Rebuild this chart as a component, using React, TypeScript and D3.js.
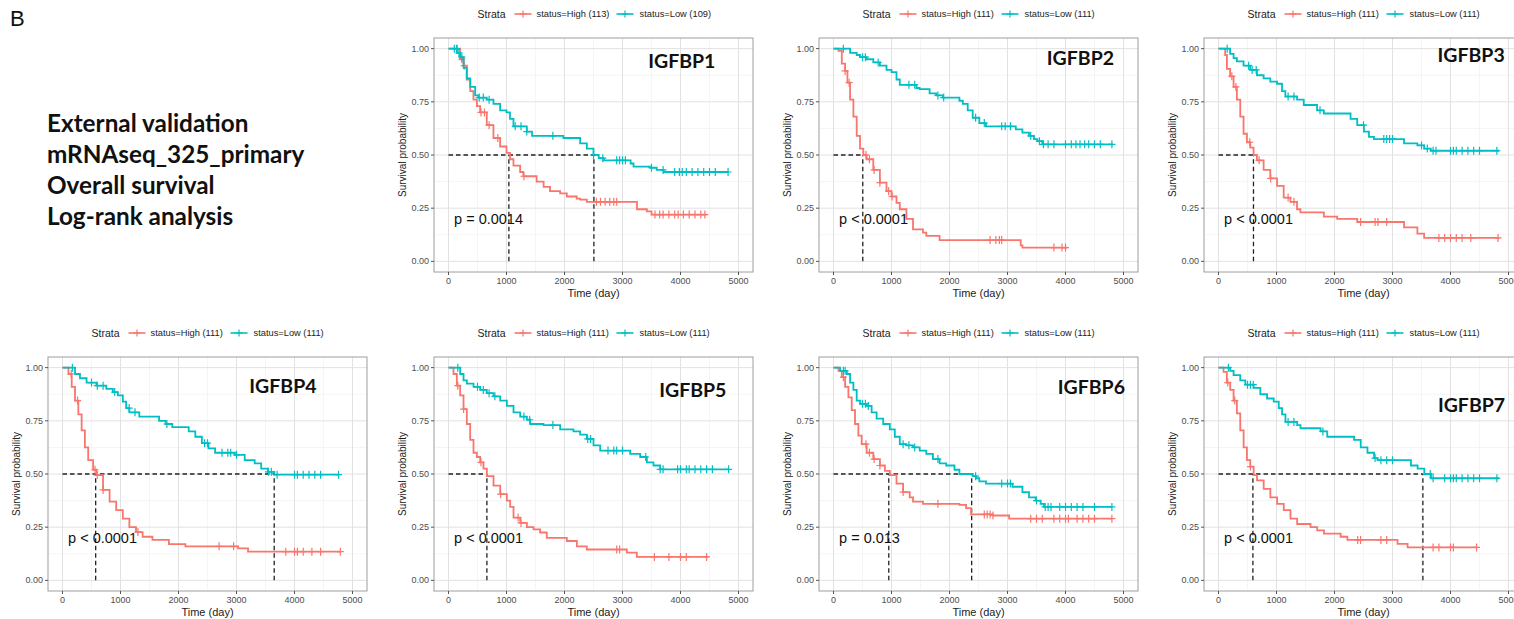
import React from 'react'
import * as d3 from 'd3'

// KM step points: [time (day), survival after that time]
const HIGH_1 = [[0,1],[200,0.95],[260,0.92],[315,0.855],[375,0.8],[430,0.76],[490,0.73],[545,0.7],[660,0.64],[775,0.58],[890,0.54],[1000,0.51],[1060,0.48],[1120,0.45],[1235,0.42],[1290,0.4],[1520,0.375],[1640,0.35],[1750,0.33],[1925,0.32],[2040,0.305],[2210,0.295],[2270,0.29],[2385,0.28],[3250,0.245],[3420,0.235],[3500,0.22],[4450,0.22]]
const LOW_1 = [[0,1],[145,0.98],[200,0.96],[260,0.91],[315,0.86],[375,0.82],[460,0.78],[515,0.77],[660,0.76],[775,0.74],[890,0.71],[1000,0.7],[1060,0.67],[1120,0.635],[1350,0.61],[1440,0.59],[1980,0.58],[2270,0.555],[2385,0.53],[2500,0.5],[2590,0.485],[2675,0.475],[3140,0.46],[3190,0.445],[3480,0.44],[3590,0.43],[3710,0.42],[4830,0.42]]
const HIGH_2 = [[0,1],[86,0.99],[143,0.93],[200,0.895],[240,0.84],[286,0.76],[343,0.68],[400,0.59],[457,0.53],[514,0.5],[571,0.48],[686,0.43],[800,0.37],[914,0.33],[1000,0.305],[1086,0.275],[1143,0.245],[1257,0.2],[1371,0.15],[1543,0.135],[1600,0.12],[1829,0.1],[3228,0.075],[3257,0.065],[4030,0.065]]
const LOW_2 = [[0,1],[286,0.98],[400,0.97],[457,0.96],[571,0.95],[686,0.935],[800,0.92],[914,0.9],[1000,0.89],[1086,0.855],[1143,0.83],[1429,0.815],[1486,0.81],[1657,0.79],[1771,0.78],[1886,0.77],[2171,0.755],[2229,0.74],[2314,0.71],[2400,0.675],[2514,0.65],[2629,0.635],[3143,0.62],[3257,0.605],[3371,0.59],[3457,0.575],[3514,0.565],[3600,0.55],[4820,0.55]]
const HIGH_3 = [[0,1],[115,0.97],[145,0.905],[200,0.87],[260,0.82],[317,0.76],[375,0.68],[432,0.6],[490,0.56],[548,0.535],[605,0.5],[663,0.475],[778,0.43],[893,0.39],[1009,0.355],[1124,0.3],[1239,0.28],[1354,0.245],[1412,0.23],[1816,0.21],[2046,0.2],[2392,0.185],[3199,0.16],[3429,0.13],[3545,0.11],[4840,0.11]]
const LOW_3 = [[0,1],[200,0.975],[260,0.955],[317,0.94],[432,0.92],[548,0.9],[663,0.875],[778,0.86],[893,0.845],[1009,0.835],[1095,0.8],[1153,0.775],[1354,0.76],[1470,0.735],[1700,0.71],[1816,0.695],[2277,0.67],[2392,0.64],[2507,0.61],[2594,0.585],[2680,0.575],[3199,0.555],[3429,0.545],[3545,0.53],[3660,0.52],[4840,0.52]]
const HIGH_4 = [[0,1],[102,0.97],[159,0.91],[216,0.845],[273,0.78],[330,0.705],[386,0.625],[443,0.565],[528,0.52],[585,0.495],[699,0.425],[812,0.37],[926,0.33],[1040,0.29],[1153,0.25],[1267,0.227],[1381,0.205],[1551,0.19],[1835,0.17],[2119,0.16],[3028,0.15],[3199,0.135],[4790,0.135]]
const LOW_4 = [[0,1],[216,0.97],[301,0.95],[415,0.93],[585,0.915],[756,0.9],[869,0.885],[955,0.87],[1040,0.84],[1097,0.81],[1153,0.79],[1324,0.77],[1665,0.75],[1778,0.735],[1892,0.72],[2176,0.7],[2290,0.675],[2403,0.645],[2517,0.62],[2631,0.6],[2972,0.59],[3142,0.565],[3313,0.55],[3426,0.525],[3540,0.51],[3653,0.497],[4760,0.497]]
const HIGH_5 = [[0,1],[86,0.97],[144,0.915],[201,0.87],[259,0.805],[316,0.735],[374,0.66],[431,0.6],[489,0.58],[546,0.555],[603,0.525],[661,0.49],[776,0.445],[891,0.405],[1006,0.375],[1063,0.345],[1121,0.295],[1236,0.27],[1351,0.25],[1466,0.24],[1580,0.225],[1695,0.2],[2040,0.185],[2213,0.16],[2385,0.145],[3075,0.13],[3247,0.11],[4480,0.11]]
const LOW_5 = [[0,1],[201,0.97],[259,0.94],[316,0.925],[431,0.91],[546,0.895],[661,0.88],[776,0.865],[891,0.845],[1006,0.82],[1121,0.79],[1236,0.77],[1351,0.755],[1408,0.735],[1638,0.73],[1925,0.71],[2155,0.7],[2270,0.685],[2385,0.665],[2500,0.635],[2615,0.61],[3132,0.595],[3305,0.58],[3420,0.555],[3534,0.54],[3649,0.522],[4830,0.522]]
const HIGH_6 = [[0,1],[86,0.985],[143,0.955],[200,0.91],[257,0.86],[314,0.8],[371,0.735],[429,0.68],[486,0.64],[571,0.6],[686,0.57],[800,0.54],[886,0.515],[971,0.495],[1086,0.455],[1200,0.415],[1314,0.39],[1371,0.37],[1543,0.36],[2171,0.355],[2286,0.34],[2371,0.31],[2743,0.305],[3029,0.29],[4800,0.29]]
const LOW_6 = [[0,1],[114,0.985],[229,0.97],[286,0.93],[343,0.895],[400,0.845],[457,0.83],[571,0.82],[657,0.79],[743,0.76],[857,0.735],[971,0.71],[1057,0.675],[1143,0.64],[1257,0.635],[1371,0.625],[1486,0.61],[1600,0.595],[1714,0.57],[1829,0.55],[1943,0.54],[2086,0.52],[2171,0.5],[2400,0.49],[2457,0.48],[2514,0.465],[2629,0.455],[3086,0.44],[3257,0.415],[3371,0.39],[3486,0.375],[3571,0.36],[3629,0.345],[4800,0.345]]
const HIGH_7 = [[0,1],[87,0.98],[144,0.93],[202,0.895],[260,0.845],[317,0.785],[375,0.705],[433,0.625],[490,0.565],[548,0.535],[606,0.495],[664,0.47],[779,0.43],[894,0.39],[1010,0.36],[1125,0.33],[1241,0.29],[1356,0.265],[1587,0.25],[1702,0.235],[1818,0.22],[2106,0.205],[2222,0.19],[3087,0.172],[3260,0.155],[4460,0.155]]
const LOW_7 = [[0,1],[202,0.985],[260,0.965],[375,0.94],[462,0.92],[606,0.905],[721,0.875],[837,0.855],[952,0.84],[1039,0.81],[1096,0.78],[1154,0.745],[1356,0.73],[1414,0.715],[1760,0.7],[1875,0.675],[2337,0.66],[2452,0.625],[2568,0.6],[2683,0.575],[2741,0.565],[3318,0.54],[3433,0.525],[3548,0.5],[3664,0.48],[4840,0.48]]

// censored times
const HIGH_1_CENS = [150,230,270,560,620,700,850,1300,2550,2620,2700,2780,2850,2900,3560,3640,3700,3800,3900,3960,4050,4150,4250,4350,4420]
const LOW_1_CENS = [100,140,180,230,530,600,700,1150,1250,1350,1800,2500,2660,2900,2950,3000,3050,3500,3700,3900,3980,4030,4100,4200,4300,4400,4500,4600,4820]
const HIGH_2_CENS = [200,270,560,620,700,800,950,1010,2700,2800,2860,2900,3800,3940,4000]
const LOW_2_CENS = [170,500,550,770,1300,1400,1800,1900,2450,2600,2900,2960,3050,3400,3550,3620,3700,3800,4000,4100,4180,4250,4330,4400,4500,4600,4800]
const HIGH_3_CENS = [230,300,540,700,900,1200,1300,2450,2700,2750,2900,3800,3900,4000,4100,4200,4350,4820]
const LOW_3_CENS = [150,520,580,650,1200,1300,1750,2500,2850,2900,2950,3000,3500,3600,3700,3750,4000,4050,4100,4200,4300,4400,4500,4800]
const HIGH_4_CENS = [150,260,560,600,700,1300,2700,2950,3850,4000,4050,4150,4300,4450,4790]
const LOW_4_CENS = [170,500,600,700,900,1150,1250,1800,2450,2500,2750,2850,2900,3000,3550,3600,3700,4000,4050,4150,4250,4350,4450,4760]
const HIGH_5_CENS = [160,260,560,900,1200,1250,2900,2950,3550,3800,4000,4100,4450]
const LOW_5_CENS = [160,500,600,700,800,1300,1400,1800,2400,2450,2750,2850,2900,3000,3400,3650,3700,3950,4000,4100,4150,4250,4350,4450,4550,4830]
const HIGH_6_CENS = [170,560,620,700,800,1200,1800,2600,2650,2700,2750,3400,3500,3600,3800,3900,4000,4050,4200,4300,4400,4500,4800]
const LOW_6_CENS = [170,200,500,550,600,1200,1300,1400,1800,2450,2900,3000,3050,3500,3650,3700,3750,3900,4000,4100,4200,4300,4500,4800]
const HIGH_7_CENS = [160,280,550,2400,2450,2800,2900,3700,3800,4000,4050,4450]
const LOW_7_CENS = [170,500,550,600,1200,1300,1800,2700,2800,2900,3000,3650,3700,3900,4000,4050,4100,4200,4300,4400,4500,4800]

const GENES = ['IGFBP1','IGFBP2','IGFBP3','IGFBP4','IGFBP5','IGFBP6','IGFBP7']
const PVALS = ['p = 0.0014','p < 0.0001','p < 0.0001','p < 0.0001','p < 0.0001','p = 0.013','p < 0.0001']
const N_HIGH = [113,111,111,111,111,111,111]
const N_LOW = [109,111,111,111,111,111,111]
const MEDIANS = [[1041,2507],[505,null],[603,null],[572,3650],[662,null],[953,2382],[593,3524]]
const X_TICKS = [0,1000,2000,3000,4000,5000]
const Y_TICKS = [0,0.25,0.5,0.75,1]
const INFO_LINES = ['External validation','mRNAseq_325_primary','Overall survival','Log-rank analysis']

const HIGHS = [HIGH_1,HIGH_2,HIGH_3,HIGH_4,HIGH_5,HIGH_6,HIGH_7]
const LOWS = [LOW_1,LOW_2,LOW_3,LOW_4,LOW_5,LOW_6,LOW_7]
const HIGH_CENS = [HIGH_1_CENS,HIGH_2_CENS,HIGH_3_CENS,HIGH_4_CENS,HIGH_5_CENS,HIGH_6_CENS,HIGH_7_CENS]
const LOW_CENS = [LOW_1_CENS,LOW_2_CENS,LOW_3_CENS,LOW_4_CENS,LOW_5_CENS,LOW_6_CENS,LOW_7_CENS]

const RED = '#F8766D'
const CYAN = '#00BFC4'
const AXIS_FONT = "'Liberation Sans', Arial, sans-serif"
const TITLE_FONT = "Lato, 'Open Sans', sans-serif"

// panel frames: [left, top]
const FRAMES = [[434,38],[819,38],[1204,38],[48,357],[434,357],[819,357],[1204,357]]
const PW = 319
const PH = 234

// gene label position in data coords (left edge, vertical centre)
const LABEL_POS = [[3443,0.94],[3678,0.953],[3776,0.97],[3221,0.912],[3633,0.893],[3867,0.907],[3783,0.822]]

function survAt(curve, t) {
  let s = 1
  for (const [tt, v] of curve) { if (tt <= t) s = v; else break }
  return s
}

function KMPanel({ i }) {
  const [left, top] = FRAMES[i]
  const x = d3.scaleLinear().domain([-250, 5250]).range([0, PW])
  const y = d3.scaleLinear().domain([-0.05, 1.05]).range([PH, 0])
  const line = d3.line().x(d => x(d[0])).y(d => y(d[1])).curve(d3.curveStepAfter)
  const minorX = X_TICKS.slice(0, -1).map(t => t + 500)
  const minorY = Y_TICKS.slice(0, -1).map(t => t + 0.125)
  const med = MEDIANS[i]
  const medMax = d3.max(med.filter(m => m != null))
  const curves = [[HIGHS[i], HIGH_CENS[i], RED], [LOWS[i], LOW_CENS[i], CYAN]]
  const cx = left + PW / 2
  const legY = top - 24

  return (
    <g>
      {/* legend */}
      <g transform={`translate(${cx},${legY})`} fontFamily={AXIS_FONT}>
        <text x={-116} y={4} fontSize={10.5} fill="#222">Strata</text>
        <line x1={-79} x2={-62} y1={0} y2={0} stroke={RED} strokeWidth={1.6} />
        <path d="M-70.5,-3.5V3.5M-74,0H-67" stroke={RED} strokeWidth={1.2} />
        <text x={-57} y={3.2} fontSize={9.3} fill="#222">{`status=High (${N_HIGH[i]})`}</text>
        <line x1={23} x2={40} y1={0} y2={0} stroke={CYAN} strokeWidth={1.6} />
        <path d="M31.5,-3.5V3.5M28,0H35" stroke={CYAN} strokeWidth={1.2} />
        <text x={46} y={3.2} fontSize={9.3} fill="#222">{`status=Low (${N_LOW[i]})`}</text>
      </g>
      <g transform={`translate(${left},${top})`}>
        <rect width={PW} height={PH} fill="#fff" />
        {minorX.map(t => <line key={'mx' + t} x1={x(t)} x2={x(t)} y1={0} y2={PH} stroke="#F0F0F0" strokeWidth={0.7} />)}
        {minorY.map(t => <line key={'my' + t} y1={y(t)} y2={y(t)} x1={0} x2={PW} stroke="#F0F0F0" strokeWidth={0.7} />)}
        {X_TICKS.map(t => <line key={'gx' + t} x1={x(t)} x2={x(t)} y1={0} y2={PH} stroke="#E2E2E2" strokeWidth={1} />)}
        {Y_TICKS.map(t => <line key={'gy' + t} y1={y(t)} y2={y(t)} x1={0} x2={PW} stroke="#E2E2E2" strokeWidth={1} />)}

        {/* median lines */}
        <line x1={x(0)} x2={x(medMax)} y1={y(0.5)} y2={y(0.5)} stroke="#222" strokeWidth={1.3} strokeDasharray="4.5,3" />
        {med.filter(m => m != null).map((m, k) => (
          <line key={'md' + k} x1={x(m)} x2={x(m)} y1={y(0)} y2={y(0.5)} stroke="#222" strokeWidth={1.3} strokeDasharray="4.5,3" />
        ))}

        {curves.map(([pts, cens, col], k) => (
          <g key={'c' + k}>
            <path d={line(pts)} fill="none" stroke={col} strokeWidth={1.8} />
            {cens.map((t, j) => {
              const px = x(t), py = y(survAt(pts, t))
              return <path key={j} d={`M${px},${py - 4}V${py + 4}M${px - 3.5},${py}H${px + 3.5}`} stroke={col} strokeWidth={1.2} />
            })}
          </g>
        ))}

        <text x={x(96)} y={y(0.2)} dy="0.35em" fontFamily={AXIS_FONT} fontSize={14.5} fill="#111">{PVALS[i]}</text>
        <text x={x(LABEL_POS[i][0])} y={y(LABEL_POS[i][1])} dy="0.35em" fontFamily={TITLE_FONT} fontWeight={700} fontSize={19.5} fill="#111">{GENES[i]}</text>

        <rect width={PW} height={PH} fill="none" stroke="#9E9E9E" strokeWidth={1} />

        {/* axes */}
        {X_TICKS.map(t => (
          <g key={'xt' + t} transform={`translate(${x(t)},${PH})`}>
            <line y1={0} y2={3} stroke="#555" />
            <text y={12} textAnchor="middle" fontFamily={AXIS_FONT} fontSize={9} fill="#4D4D4D">{t}</text>
          </g>
        ))}
        {Y_TICKS.map(t => (
          <g key={'yt' + t} transform={`translate(0,${y(t)})`}>
            <line x1={-3} x2={0} stroke="#555" />
            <text x={-5} dy="0.33em" textAnchor="end" fontFamily={AXIS_FONT} fontSize={9} fill="#4D4D4D">{t.toFixed(2)}</text>
          </g>
        ))}
        <text x={PW / 2} y={PH + 25} textAnchor="middle" fontFamily={AXIS_FONT} fontSize={11} fill="#222">Time (day)</text>
        <text transform={`translate(${-32},${PH / 2}) rotate(-90)`} textAnchor="middle" dy="0.35em" fontFamily={AXIS_FONT} fontSize={10} fill="#222">Survival probability</text>
      </g>
    </g>
  )
}

export default function App() {
  return (
    <svg width={1514} height={619} style={{ position: 'absolute', left: 0, top: 0, background: '#fff' }}>
      <rect width={1514} height={619} fill="#fff" />
      <text x={10} y={26} fontFamily={AXIS_FONT} fontSize={22} fill="#111">B</text>
      {INFO_LINES.map((s, k) => (
        <text key={s} x={47} y={123 + k * 31} dy="0.35em" fontFamily={TITLE_FONT} fontWeight={700} fontSize={24.3} fill="#111">{s}</text>
      ))}
      {GENES.map((g, i) => <KMPanel key={g} i={i} />)}
    </svg>
  )
}
